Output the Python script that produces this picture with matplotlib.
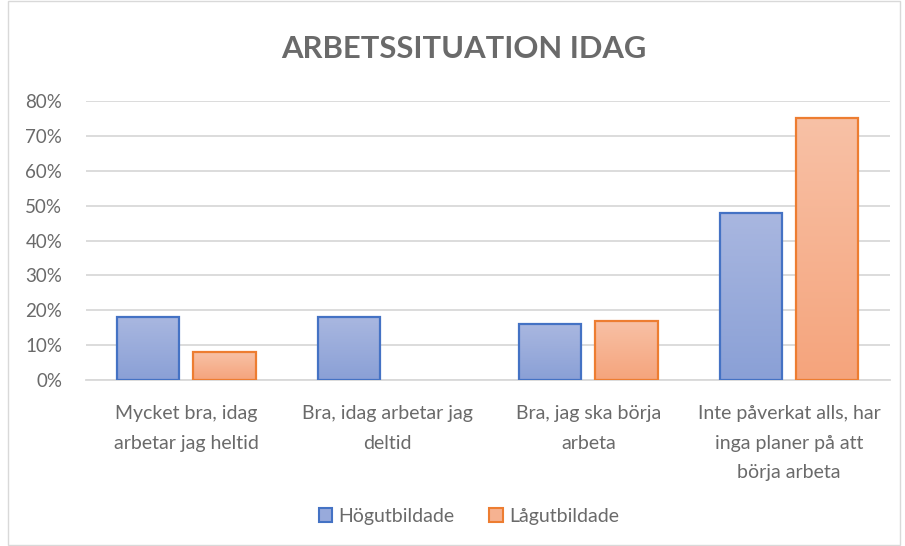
import numpy as np
import matplotlib.pyplot as plt
from matplotlib.patches import Patch, Rectangle
from matplotlib.colors import LinearSegmentedColormap

plt.rcParams['font.family'] = ['Lato', 'DejaVu Sans']

categories = ["Mycket bra, idag\narbetar jag heltid",
              "Bra, idag arbetar jag\ndeltid",
              "Bra, jag ska börja\narbeta",
              "Inte påverkat alls, har\ninga planer på att\nbörja arbeta"]
hog = [0.18, 0.18, 0.16, 0.48]
lag = [0.08, 0.0, 0.17, 0.75]
series_names = ["Högutbildade", "Lågutbildade"]

text_col = "#6a6a6a"
blue_edge, orange_edge = "#4472c4", "#ed7d31"
blue_grad = LinearSegmentedColormap.from_list("b", ["#8aa0d6", "#a9b7e0"])
orange_grad = LinearSegmentedColormap.from_list("o", ["#f5a47c", "#f8c1a6"])

fig = plt.figure(figsize=(9.05, 5.46), dpi=100)
ax = fig.add_axes([0.095, 0.304, 0.888, 0.511])

x = np.arange(len(categories))
w = 0.31
off = 0.19
grad = np.linspace(0, 1, 256).reshape(-1, 1)

def grad_bars(xs, vals, cmap, edge):
    for xi, v in zip(xs, vals):
        if v <= 0:
            continue
        ax.imshow(grad, cmap=cmap, origin="lower", aspect="auto",
                  extent=[xi - w / 2, xi + w / 2, 0, v], zorder=2)
        ax.add_patch(Rectangle((xi - w / 2, 0), w, v, fill=False,
                               edgecolor=edge, linewidth=1.6, zorder=3))

grad_bars(x - off, hog, blue_grad, blue_edge)
grad_bars(x + off, lag, orange_grad, orange_edge)

ax.set_xlim(-0.5, len(categories) - 0.5)
ax.set_ylim(0, 0.8)
ax.set_yticks(np.arange(0, 0.81, 0.1))
ax.set_yticklabels([f"{int(round(t * 100))}%" for t in np.arange(0, 0.81, 0.1)])
ax.set_xticks(x)
ax.set_xticklabels(categories)
for lab in ax.get_xticklabels():
    lab.set_linespacing(1.9)
ax.tick_params(axis="x", length=0, labelsize=14, colors=text_col, pad=18)
ax.tick_params(axis="y", length=0, labelsize=13.5, colors=text_col, pad=17)
ax.grid(axis="y", color="#d9d9d9", linewidth=1.3, zorder=0)
ax.set_axisbelow(True)
for s in ["top", "right", "left"]:
    ax.spines[s].set_visible(False)
ax.spines["bottom"].set_color("#d9d9d9")
ax.spines["bottom"].set_linewidth(1.3)

fig.text(0.512, 0.911, "ARBETSSITUATION IDAG", ha="center", va="center",
         fontsize=22.3, fontweight="bold", color=text_col)

handles = [Patch(facecolor="#98aadb", edgecolor=blue_edge, linewidth=1.5),
           Patch(facecolor="#f6b291", edgecolor=orange_edge, linewidth=1.5)]
fig.legend(handles, series_names, loc="center", bbox_to_anchor=(0.518, 0.054),
           ncol=2, frameon=False, fontsize=14, labelcolor=text_col,
           handlelength=0.7, handleheight=0.7, handletextpad=0.3, columnspacing=1.8)

fig.patches.append(Rectangle((8 / 905, 0.002), 0.995 - 8 / 905, 0.996, transform=fig.transFigure,
                             fill=False, edgecolor="#d9d9d9", linewidth=1.0))

fig.savefig("out.png", dpi=100)
